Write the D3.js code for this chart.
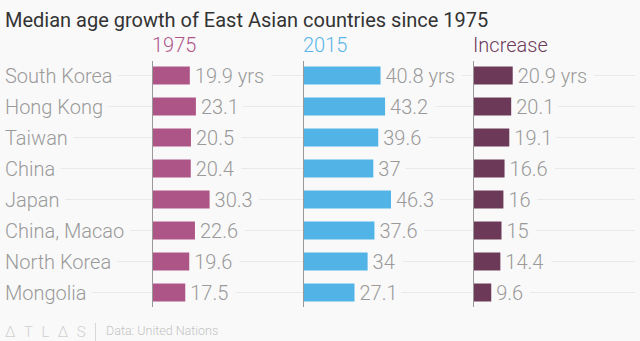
<!DOCTYPE html>
<html>
<head>
<meta charset="utf-8">
<script src="https://cdnjs.cloudflare.com/ajax/libs/d3/7.8.5/d3.min.js"></script>
<style>
  body { margin:0; background:#f9f9f9; }
  svg { display:block; }
</style>
</head>
<body>
<svg id="chart"></svg>
<script>
var countries = ["South Korea","Hong Kong","Taiwan","China","Japan","China, Macao","North Korea","Mongolia"];
var y1975 = [19.9, 23.1, 20.5, 20.4, 30.3, 22.6, 19.6, 17.5];
var y2015 = [40.8, 43.2, 39.6, 37, 46.3, 37.6, 34, 27.1];
var increase = [20.9, 20.1, 19.1, 16.6, 16, 15, 14.4, 9.6];
var headers = ["1975","2015","Increase"];

var W = 640, H = 341, bg = "#f9f9f9";
var svg = d3.select("#chart").attr("width",W).attr("height",H);
svg.append("rect").attr("width",W).attr("height",H).attr("fill",bg);

var font = "Roboto, 'Open Sans', sans-serif";
var fs = 20;

// scales
var yScale = d3.scaleBand()
  .domain(countries)
  .range([60,308])
  .paddingInner(0.42)
  .paddingOuter(0.21);
var xScale = d3.scaleLinear().domain([0,50]).range([0,95]);
var mid = function(c){return yScale(c)+yScale.bandwidth()/2};

var panels = [
  {name:headers[0], values:y1975, x:152, color:"#ad5586", head:"#b0558a"},
  {name:headers[1], values:y2015, x:303, color:"#51b3e6", head:"#5ab6e8"},
  {name:headers[2], values:increase, x:473, color:"#6c3959", head:"#6c3959"}
];

// title
svg.append("text")
  .attr("x",5).attr("y",27)
  .attr("font-family",font).attr("font-size",20)
  .attr("fill","#333")
  .text("Median age growth of East Asian countries since 1975");

// gridlines
svg.append("g").selectAll("line")
  .data(countries).join("line")
  .attr("x1",0).attr("x2",635)
  .attr("y1",mid).attr("y2",mid)
  .attr("stroke","#e9e9e9").attr("stroke-width",1);

// country labels
svg.append("g").selectAll("text")
  .data(countries).join("text")
  .attr("x",5)
  .attr("y",mid)
  .attr("dy","0.35em")
  .attr("font-family",font).attr("font-size",fs).attr("font-weight",300)
  .attr("fill","#9a9a9a")
  .attr("stroke",bg).attr("stroke-width",14).attr("paint-order","stroke")
  .text(function(d){return d});

var label = function(d,i){return i==0 ? d+" yrs" : d};

panels.forEach(function(p){
  var g = svg.append("g").attr("transform","translate("+p.x+",0)");

  g.append("text")
    .attr("x",0).attr("y",52)
    .attr("font-family",font).attr("font-size",fs).attr("font-weight",300)
    .attr("fill",p.head)
    .text(p.name);

  // halo behind value labels, under the bars
  g.selectAll("text.halo")
    .data(p.values).join("text")
    .attr("class","halo")
    .attr("x",function(d){return xScale(d)+5})
    .attr("y",function(d,i){return mid(countries[i])})
    .attr("dy","0.35em")
    .attr("font-family",font).attr("font-size",fs).attr("font-weight",300)
    .attr("fill",bg)
    .attr("stroke",bg).attr("stroke-width",16)
    .text(label);

  g.selectAll("rect")
    .data(p.values).join("rect")
    .attr("x",0)
    .attr("y",function(d,i){return yScale(countries[i])})
    .attr("width",function(d){return xScale(d)})
    .attr("height",yScale.bandwidth())
    .attr("fill",p.color);

  g.selectAll("text.val")
    .data(p.values).join("text")
    .attr("class","val")
    .attr("x",function(d){return xScale(d)+5})
    .attr("y",function(d,i){return mid(countries[i])})
    .attr("dy","0.35em")
    .attr("font-family",font).attr("font-size",fs).attr("font-weight",300)
    .attr("fill","#9a9a9a")
    .text(label);

  var yAxis = d3.axisLeft(yScale).tickSize(0).tickFormat("");
  g.append("g").call(yAxis)
    .call(function(a){a.select(".domain").attr("d","M0.5,61V307").attr("stroke","#999")});
});

// footer
svg.append("text")
  .attr("x",5).attr("y",337)
  .attr("font-family",font).attr("font-size",15).attr("font-weight",300)
  .attr("letter-spacing",8.5)
  .attr("fill","#d0d0d0")
  .text("ΔTLΔS");
svg.append("line")
  .attr("x1",95.5).attr("x2",95.5).attr("y1",323).attr("y2",341)
  .attr("stroke","#d8d8d8");
svg.append("text")
  .attr("x",106).attr("y",335)
  .attr("font-family",font).attr("font-size",12.5).attr("font-weight",300)
  .attr("fill","#c4c4c4")
  .text("Data: United Nations");
</script>
</body>
</html>
